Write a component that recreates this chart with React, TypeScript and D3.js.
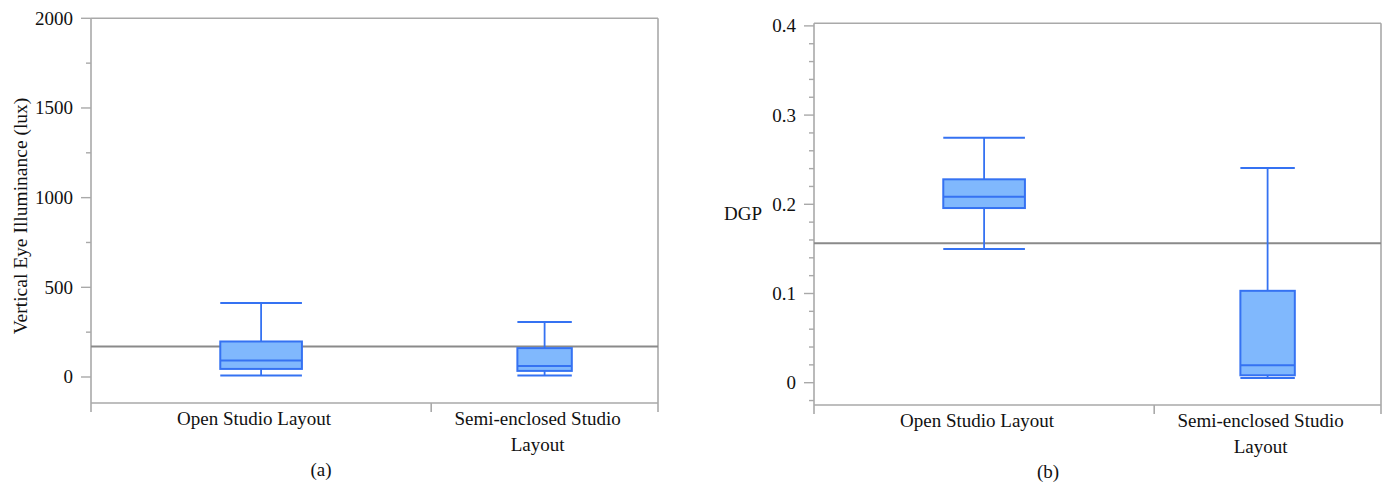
import React from "react";
import * as d3 from "d3";

// ---- data ----
const categoryLines: string[][] = [["Open Studio Layout"], ["Semi-enclosed Studio", "Layout"]];
const groupWeights = [3, 2];

const illumMin = [9, 9];
const illumQ1 = [45, 34];
const illumMedian = [92, 62];
const illumQ3 = [198, 161];
const illumMax = [412, 306];
const illumRef = 170;
const illumTicks = [0, 500, 1000, 1500, 2000];
const illumTickLabels = ["0", "500", "1000", "1500", "2000"];
const illumMinorTicks = [250, 750, 1250, 1750];

const dgpMin = [0.15, 0.0053];
const dgpQ1 = [0.1958, 0.0083];
const dgpMedian = [0.2085, 0.0195];
const dgpQ3 = [0.228, 0.103];
const dgpMax = [0.2747, 0.2407];
const dgpRef = 0.1563;
const dgpTicks = [0, 0.1, 0.2, 0.3, 0.4];
const dgpTickLabels = ["0", "0.1", "0.2", "0.3", "0.4"];
const dgpMinorTicks = [-0.02, 0.02, 0.04, 0.06, 0.08, 0.12, 0.14, 0.16, 0.18, 0.22, 0.24, 0.26, 0.28, 0.32, 0.34, 0.36, 0.38];

const FONT = "'Liberation Serif', 'Times New Roman', serif";
const FRAME = "#a9a9a9";
const BLUE = "#3572f2";
const FILL = "#80b8fd";
const REF = "#8a8a8a";

type PanelProps = {
  x0: number; x1: number; yTop: number; yBottom: number;
  domain: [number, number];
  mins: number[]; q1: number[]; med: number[]; q3: number[]; maxs: number[];
  refValue: number;
  ticks: number[]; tickLabels: string[]; minorTicks: number[];
  tag: string; tagX: number;
};

function Panel(p: PanelProps) {
  const y = d3.scaleLinear().domain(p.domain).range([p.yBottom, p.yTop]);
  const cum = [0, ...d3.cumsum(groupWeights)];
  const xw = d3.scaleLinear().domain([0, d3.sum(groupWeights)]).range([p.x0, p.x1]);
  const edges = cum.map((c) => xw(c));
  const boxFrac = 0.24;
  return (
    <g>
      {/* frame */}
      <line x1={p.x0} x2={p.x1} y1={p.yTop} y2={p.yTop} stroke={FRAME} strokeWidth={1.6} />
      <line x1={p.x1} x2={p.x1} y1={p.yTop} y2={p.yBottom} stroke={FRAME} strokeWidth={1.6} />
      <line x1={p.x0} x2={p.x1} y1={p.yBottom} y2={p.yBottom} stroke={FRAME} strokeWidth={1.6} />
      <line x1={p.x0} x2={p.x0} y1={p.yTop} y2={p.yBottom} stroke={FRAME} strokeWidth={1.6} />
      {/* x ticks at group edges */}
      {edges.map((e, i) => (
        <line key={"xe" + i} x1={e} x2={e} y1={p.yBottom} y2={p.yBottom + 9} stroke={FRAME} strokeWidth={1.6} />
      ))}
      {/* y ticks */}
      {p.ticks.map((t, i) => (
        <g key={"yt" + i}>
          <line x1={p.x0 - 10} x2={p.x0} y1={y(t)} y2={y(t)} stroke={FRAME} strokeWidth={1.4} />
          <text x={p.x0 - 18} y={y(t)} dy="0.34em" textAnchor="end" fontFamily={FONT} fontSize={19} fill="#111">
            {p.tickLabels[i]}
          </text>
        </g>
      ))}
      {p.minorTicks.map((t, i) => (
        <line key={"ym" + i} x1={p.x0 - 5} x2={p.x0} y1={y(t)} y2={y(t)} stroke={FRAME} strokeWidth={1.4} />
      ))}
      {/* reference line */}
      <line x1={p.x0} x2={p.x1} y1={y(p.refValue)} y2={y(p.refValue)} stroke={REF} strokeWidth={2} />
      {/* boxes */}
      {groupWeights.map((_, i) => {
        const a = edges[i], b = edges[i + 1];
        const cx = (a + b) / 2;
        const w = (b - a) * boxFrac;
        const l = cx - w / 2, r = cx + w / 2;
        return (
          <g key={"box" + i}>
            <line x1={cx} x2={cx} y1={y(p.maxs[i])} y2={y(p.q3[i])} stroke={BLUE} strokeWidth={1.8} />
            <line x1={cx} x2={cx} y1={y(p.q1[i])} y2={y(p.mins[i])} stroke={BLUE} strokeWidth={1.8} />
            <line x1={l} x2={r} y1={y(p.maxs[i])} y2={y(p.maxs[i])} stroke={BLUE} strokeWidth={2} />
            <line x1={l} x2={r} y1={y(p.mins[i])} y2={y(p.mins[i])} stroke={BLUE} strokeWidth={2} />
            <rect x={l} y={y(p.q3[i])} width={w} height={y(p.q1[i]) - y(p.q3[i])} fill={FILL} stroke={BLUE} strokeWidth={2} />
            <line x1={l} x2={r} y1={y(p.med[i])} y2={y(p.med[i])} stroke={BLUE} strokeWidth={2} />
            {categoryLines[i].map((s, k) => (
              <text key={k} x={cx - 7} y={p.yBottom + 22 + k * 25.5} textAnchor="middle" fontFamily={FONT} fontSize={19} fill="#111">
                {s}
              </text>
            ))}
          </g>
        );
      })}
      <text x={p.tagX} y={p.yBottom + 73} textAnchor="middle" fontFamily={FONT} fontSize={19} fill="#111">
        {p.tag}
      </text>
    </g>
  );
}

export default function App() {
  return (
    <svg width={1385} height={485} style={{ position: "absolute", left: 0, top: 0, background: "#fff" }}>
      <Panel
        x0={91} x1={658} yTop={18.3} yBottom={403}
        domain={[-145, 2000]}
        mins={illumMin} q1={illumQ1} med={illumMedian} q3={illumQ3} maxs={illumMax}
        refValue={illumRef}
        ticks={illumTicks} tickLabels={illumTickLabels} minorTicks={illumMinorTicks}
        tag="(a)" tagX={321}
      />
      <text transform="translate(27,216) rotate(-90)" textAnchor="middle" fontFamily={FONT} fontSize={19.5} fill="#111">
        Vertical Eye Illuminance (lux)
      </text>
      <Panel
        x0={814} x1={1381} yTop={23.3} yBottom={405}
        domain={[-0.025, 0.4029]}
        mins={dgpMin} q1={dgpQ1} med={dgpMedian} q3={dgpQ3} maxs={dgpMax}
        refValue={dgpRef}
        ticks={dgpTicks} tickLabels={dgpTickLabels} minorTicks={dgpMinorTicks}
        tag="(b)" tagX={1048}
      />
      <text x={762} y={220} textAnchor="end" fontFamily={FONT} fontSize={19} fill="#111">
        DGP
      </text>
    </svg>
  );
}
